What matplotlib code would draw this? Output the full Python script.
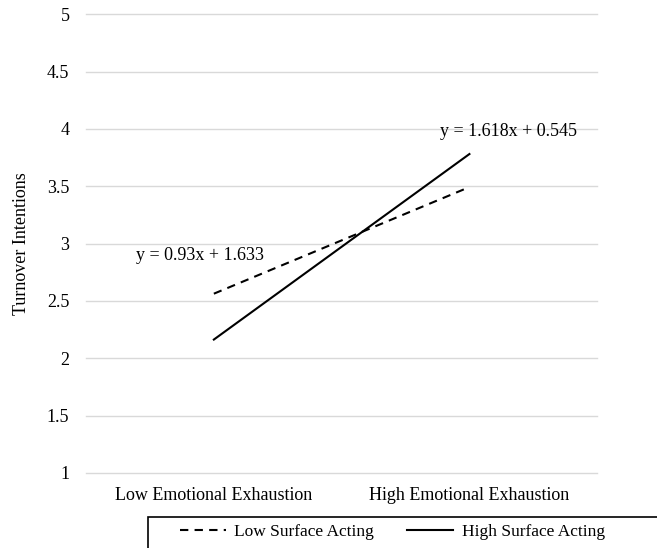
import numpy as np
import matplotlib.pyplot as plt
from matplotlib.patches import Rectangle

plt.rcParams['font.family'] = ['Liberation Serif', 'DejaVu Serif']

categories = ['Low Emotional Exhaustion', 'High Emotional Exhaustion']
low_sa = [2.563, 3.493]
high_sa = [2.163, 3.781]
eq_low = 'y = 0.93x + 1.633'
eq_high = 'y = 1.618x + 0.545'

fig = plt.figure(figsize=(6.57, 5.48), dpi=100)
ax = fig.add_axes([0.131, 0.137, 0.778, 0.837])

x = np.arange(len(categories))
ax.plot(x, low_sa, color='black', ls=(0, (4, 3)), lw=1.5, label='Low Surface Acting')
ax.plot(x, high_sa, color='black', ls='-', lw=1.5, label='High Surface Acting')

ax.set_xlim(-0.5, 1.5)
ax.set_ylim(1, 5)
ax.set_yticks(np.arange(1, 5.01, 0.5))
ax.set_yticklabels(['1', '1.5', '2', '2.5', '3', '3.5', '4', '4.5', '5'])
ax.set_xticks(x)
ax.set_xticklabels(categories)
ax.tick_params(length=0, labelsize=13)
ax.tick_params(axis='y', pad=12)
ax.tick_params(axis='x', pad=10)
ax.yaxis.grid(True, color='#d9d9d9', lw=1)
for gl in ax.get_ygridlines():
    gl.set_clip_on(False)
ax.set_axisbelow(True)
for s in ax.spines.values():
    s.set_visible(False)
ax.set_ylabel('Turnover Intentions', fontsize=13, labelpad=12)

ax.text(-0.054, 2.90, eq_low, fontsize=13, ha='center', va='center')
ax.text(1.152, 3.98, eq_high, fontsize=13, ha='center', va='center')

# legend box cut off at the bottom/right like the source
fig.patches.append(Rectangle((148 / 657, -0.1), 1.0, 0.1 + 31 / 548, transform=fig.transFigure,
                             fill=False, edgecolor='black', lw=1.2))
fig.legend(loc='center left', bbox_to_anchor=(164 / 657, 16 / 548), ncol=2, frameon=False,
           fontsize=12.5, handlelength=2.65, columnspacing=1.9, handletextpad=0.5)

plt.savefig('out.png', dpi=100)
